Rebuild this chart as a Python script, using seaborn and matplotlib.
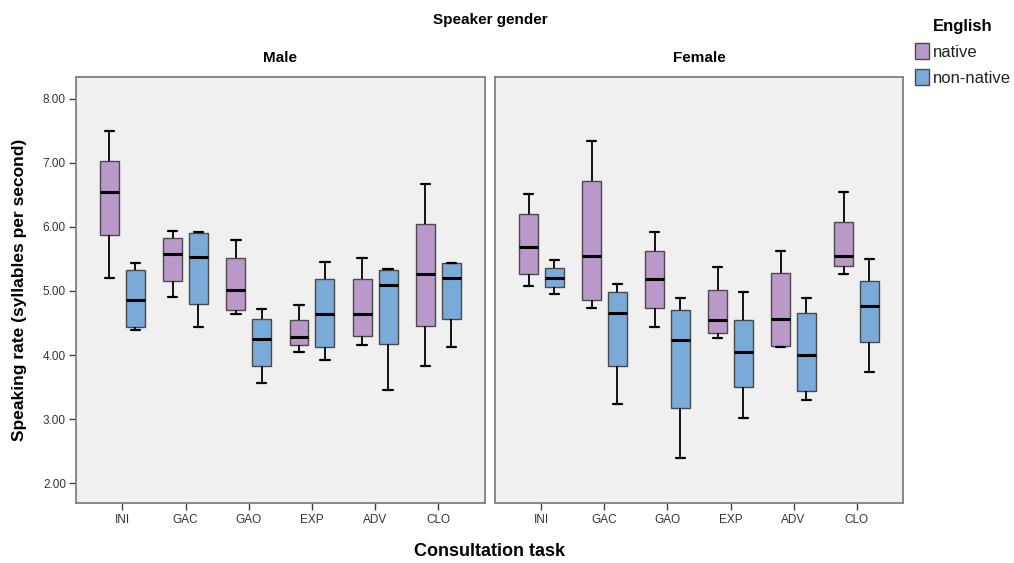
import numpy as np
import pandas as pd
import matplotlib
matplotlib.use("Agg")
import matplotlib.pyplot as plt
from matplotlib.patches import Patch
from matplotlib.ticker import FormatStrFormatter
import seaborn as sns

# Consultation tasks and five-number summaries (lower whisker, Q1, median, Q3, upper whisker)
tasks = ["INI", "GAC", "GAO", "EXP", "ADV", "CLO"]
genders = ["Male", "Female"]
english = ["native", "non-native"]

male_native_lo = [5.20, 4.90, 4.64, 4.05, 4.15, 3.83]
male_native_q1 = [5.875, 5.15, 4.70, 4.16, 4.29, 4.45]
male_native_med = [6.55, 5.57, 5.02, 4.28, 4.64, 5.26]
male_native_q3 = [7.03, 5.83, 5.52, 4.54, 5.18, 6.05]
male_native_hi = [7.50, 5.94, 5.79, 4.78, 5.51, 6.67]

male_nonnative_lo = [4.39, 4.43, 3.57, 3.92, 3.45, 4.125]
male_nonnative_q1 = [4.44, 4.79, 3.83, 4.125, 4.17, 4.57]
male_nonnative_med = [4.86, 5.53, 4.25, 4.64, 5.09, 5.21]
male_nonnative_q3 = [5.33, 5.91, 4.57, 5.19, 5.33, 5.43]
male_nonnative_hi = [5.43, 5.92, 4.72, 5.45, 5.35, 5.44]

female_native_lo = [5.08, 4.73, 4.44, 4.27, 4.12, 5.27]
female_native_q1 = [5.27, 4.86, 4.74, 4.35, 4.14, 5.39]
female_native_med = [5.68, 5.55, 5.19, 4.55, 4.56, 5.55]
female_native_q3 = [6.20, 6.72, 5.62, 5.02, 5.28, 6.07]
female_native_hi = [6.52, 7.34, 5.92, 5.37, 5.62, 6.55]

female_nonnative_lo = [4.96, 3.23, 2.39, 3.01, 3.30, 3.73]
female_nonnative_q1 = [5.06, 3.83, 3.17, 3.50, 3.44, 4.21]
female_nonnative_med = [5.20, 4.65, 4.23, 4.04, 4.00, 4.76]
female_nonnative_q3 = [5.36, 4.99, 4.70, 4.55, 4.65, 5.16]
female_nonnative_hi = [5.48, 5.11, 4.89, 4.99, 4.89, 5.50]

summaries = {
    ("Male", "native"): [male_native_lo, male_native_q1, male_native_med, male_native_q3, male_native_hi],
    ("Male", "non-native"): [male_nonnative_lo, male_nonnative_q1, male_nonnative_med, male_nonnative_q3, male_nonnative_hi],
    ("Female", "native"): [female_native_lo, female_native_q1, female_native_med, female_native_q3, female_native_hi],
    ("Female", "non-native"): [female_nonnative_lo, female_nonnative_q1, female_nonnative_med, female_nonnative_q3, female_nonnative_hi],
}

# Long table: the five summary points per box reproduce its quartiles exactly
rows = []
for (g, e), parts in summaries.items():
    for i, t in enumerate(tasks):
        for p in parts:
            rows.append({"gender": g, "English": e, "task": t, "rate": p[i]})
df = pd.DataFrame(rows)

sns.set_style("white")
plt.rcParams["font.family"] = ["Liberation Sans", "DejaVu Sans"]
plt.rcParams["text.color"] = "black"
plt.rcParams["xtick.color"] = "#333333"
plt.rcParams["ytick.color"] = "#333333"

palette = {"native": "#BA98C9", "non-native": "#7AAAD7"}
W, H = 1014, 563
fig = plt.figure(figsize=(W / 100, H / 100), dpi=100)

panel_px = {"Male": (75.7, 485.0), "Female": (495.0, 903.0)}
top_px, bot_px = 77.0, 503.0

for g in genders:
    x0, x1 = panel_px[g]
    ax = fig.add_axes([x0 / W, 1 - bot_px / H, (x1 - x0) / W, (bot_px - top_px) / H])
    sub = df[df["gender"] == g]
    sns.boxplot(
        data=sub, x="task", y="rate", hue="English", order=tasks,
        hue_order=english, palette=palette, whis=(0, 100), width=0.82,
        gap=0.27, dodge=True, legend=False, ax=ax, saturation=1,
        boxprops=dict(edgecolor="#4a4a4a", linewidth=1.0),
        medianprops=dict(color="black", linewidth=2.2),
        whiskerprops=dict(color="black", linewidth=1.3),
        capprops=dict(color="black", linewidth=1.6),
    )
    ax.set_facecolor("#F0F0F0")
    ax.set_xlim(-0.737, 5.737)
    ax.set_ylim(1.69, 8.34)
    ax.set_xlabel("")
    ax.set_ylabel("")
    for s in ax.spines.values():
        s.set_color("#808080")
        s.set_linewidth(1.3)
    ax.tick_params(axis="x", length=5, width=1.0, color="#404040", labelsize=8.5,
                   labelcolor="#333333", pad=3, bottom=True)
    if g == "Male":
        ax.set_yticks([2, 3, 4, 5, 6, 7, 8])
        ax.yaxis.set_major_formatter(FormatStrFormatter("%.2f"))
        ax.tick_params(axis="y", length=5, width=1.0, color="#404040", labelsize=8.5,
                       labelcolor="#333333", pad=2, left=True)
    else:
        ax.set_yticks([])
    fig.text(((x0 + x1) / 2) / W, 1 - 58 / H, g, ha="center", va="center",
             fontsize=11, fontweight="bold")

fig.text(490 / W, 1 - 20 / H, "Speaker gender", ha="center", va="center",
         fontsize=11, fontweight="bold")
fig.text(490 / W, 1 - 552 / H, "Consultation task", ha="center", va="center",
         fontsize=13, fontweight="bold")
fig.text(20 / W, 1 - 290 / H, "Speaking rate (syllables per second)", ha="center",
         va="center", rotation=90, fontsize=12.5, fontweight="bold")

handles = [Patch(facecolor=palette[e], edgecolor="#4a4a4a", linewidth=1.0, label=e) for e in english]
leg = fig.legend(handles=handles, title="English", loc="upper left",
                 bbox_to_anchor=(900 / W, 1 - 4 / H), frameon=False, fontsize=12,
                 handlelength=0.85, handleheight=1.1, handletextpad=0.2,
                 labelspacing=0.55, title_fontproperties={"weight": "bold", "size": 12})
for t in leg.get_texts():
    t.set_color("#222222")

fig.savefig("out.png", dpi=100)
